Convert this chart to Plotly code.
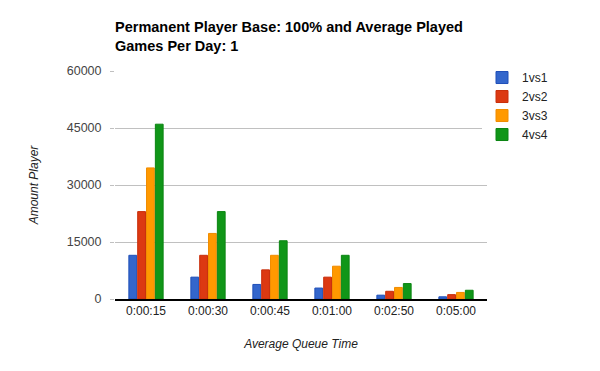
import plotly.graph_objects as go

categories = ["0:00:15", "0:00:30", "0:00:45", "0:01:00", "0:02:50", "0:05:00"]
series_names = ["1vs1", "2vs2", "3vs3", "4vs4"]
v_1vs1 = [11500, 5750, 3830, 2880, 1010, 580]
v_2vs2 = [23000, 11500, 7670, 5750, 2030, 1150]
v_3vs3 = [34500, 17250, 11500, 8630, 3040, 1730]
v_4vs4 = [46000, 23000, 15330, 11500, 4060, 2300]
y_ticks = [0, 15000, 30000, 45000, 60000]

values = [v_1vs1, v_2vs2, v_3vs3, v_4vs4]
fills = ["#3366CC", "#DC3912", "#FF9900", "#109618"]
borders = ["#1f4fb8", "#c92e0a", "#f08c00", "#0b8512"]

font_family = "Liberation Sans, Arial, sans-serif"

fig = go.Figure()
for name, vals, fc, bc in zip(series_names, values, fills, borders):
    fig.add_trace(go.Bar(
        x=categories, y=vals, name=name,
        marker=dict(color=fc, line=dict(color=bc, width=1)),
    ))

fig.update_layout(
    width=600, height=371,
    margin=dict(l=115, r=113, t=71, b=72, autoexpand=False),
    paper_bgcolor="white", plot_bgcolor="white",
    font=dict(family=font_family, size=12, color="#222222"),
    barmode="group", bargap=0.43, bargroupgap=0.12,
    title=dict(
        text="Permanent Player Base: 100% and Average Played<br>Games Per Day: 1",
        x=115 / 600, xanchor="left", xref="container",
        y=1 - 32 / 371, yanchor="middle", yref="container",
        font=dict(family=font_family, size=14.5, color="#000000", weight="bold"),
    ),
    legend=dict(
        x=1.0 - 5 / 372, xanchor="left", y=1.035, yanchor="top",
        font=dict(family=font_family, size=12, color="#222222"),
        itemwidth=30, tracegroupgap=2,
    ),
    xaxis=dict(
        title=dict(text="Average Queue Time",
                   font=dict(family=font_family, size=12, color="#222222", style="italic"),
                   standoff=22),
        showgrid=False, showline=True, linecolor="#000000", linewidth=1.5,
        ticks="", tickfont=dict(size=12, color="#222222"),
    ),
    yaxis=dict(
        title=dict(text="Amount Player",
                   font=dict(family=font_family, size=12, color="#222222", style="italic"),
                   standoff=25),
        range=[0, 60000], tickvals=y_ticks, ticktext=[str(t) for t in y_ticks],
        showgrid=True, gridcolor="#c0c0c0", gridwidth=1,
        zeroline=False, ticks="outside", ticklen=4, tickcolor="#c0c0c0",
        tickfont=dict(size=12.5, color="#444444"), ticklabelstandoff=6,
    ),
)

fig.write_html("out.html", config={"displayModeBar": False},
               post_script="document.body.style.margin='0';")
